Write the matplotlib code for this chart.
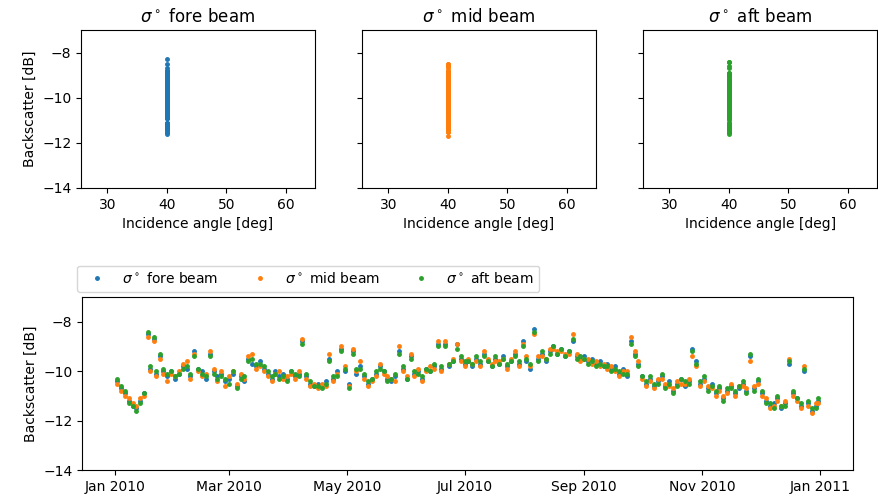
import numpy as np
import pandas as pd
import matplotlib
matplotlib.use('Agg')
from matplotlib import pyplot as plt
import matplotlib.dates as mdates

# observation days (offset from 2010-01-01) and backscatter per beam [dB]
obs_day = [1, 3, 5, 7, 9, 11, 13, 15, 17, 18, 20, 21, 23, 25, 27, 29, 31, 33, 35, 37,
           39, 41, 43, 45, 47, 49, 51, 53, 55, 57, 59, 61, 63, 65, 67, 69, 71, 73, 75, 77,
           79, 81, 83, 85, 87, 89, 91, 93, 95, 97, 99, 101, 103, 105, 107, 109, 111, 113, 115, 117,
           119, 121, 123, 125, 127, 129, 131, 133, 135, 137, 139, 141, 143, 145, 147, 149, 151, 153, 155, 157,
           159, 161, 163, 165, 167, 169, 171, 173, 175, 177, 179, 181, 183, 185, 187, 189, 191, 193, 195, 197,
           199, 201, 203, 205, 207, 209, 211, 213, 215, 217, 219, 221, 223, 225, 227, 229, 231, 233, 235, 237,
           239, 241, 243, 245, 247, 249, 251, 253, 255, 257, 259, 261, 263, 265, 267, 269, 271, 273, 275, 277,
           279, 281, 283, 285, 287, 289, 291, 293, 295, 297, 299, 301, 303, 305, 307, 309, 311, 313, 315, 317,
           319, 321, 323, 325, 327, 329, 331, 333, 335, 337, 339, 341, 343, 345, 347, 349, 351, 353, 355, 357,
           359, 361, 363, 364]

sig_fore = [-10.4, -10.7, -10.9, -11.2, -11.4, -11.5, -11.2, -10.9, -8.5, -9.9, -8.7, -10.1, -9.4, -10.0, -10.2, -10.0, -10.3, -10.1, -9.8, -9.9,
            -10.2, -9.2, -9.9, -10.0, -10.3, -9.3, -10.0, -10.2, -10.1, -10.4, -10.3, -10.1, -10.6, -10.2, -10.4, -9.5, -9.7, -9.8, -9.6, -9.9,
            -10.1, -10.3, -10.0, -10.2, -10.1, -10.3, -10.0, -10.2, -10.1, -8.8, -10.2, -10.5, -10.6, -10.5, -10.6, -10.4, -9.5, -10.3, -10.0, -9.1,
            -10.0, -10.5, -9.2, -10.1, -9.8, -10.2, -10.5, -10.3, -10.1, -9.8, -10.0, -10.3, -10.4, -10.2, -9.2, -9.9, -10.3, -9.4, -10.1, -10.0,
            -10.3, -9.9, -10.0, -9.8, -8.9, -9.9, -8.9, -9.8, -9.6, -8.9, -9.5, -9.7, -9.6, -9.8, -9.5, -9.7, -9.3, -9.6, -9.8, -9.5,
            -9.7, -9.4, -9.8, -9.6, -9.3, -9.7, -8.8, -9.6, -9.9, -8.3, -9.5, -9.3, -9.6, -9.2, -9.0, -9.3, -9.1, -9.4, -9.2, -8.8,
            -9.4, -9.5, -9.4, -9.6, -9.5, -9.7, -9.6, -9.8, -9.7, -9.9, -9.8, -10.1, -9.9, -10.2, -8.8, -9.3, -9.7, -10.2, -10.5, -10.3,
            -10.6, -10.4, -10.2, -10.6, -10.4, -10.8, -10.5, -10.3, -10.6, -10.4, -9.1, -9.6, -10.5, -10.3, -10.7, -10.5, -10.9, -10.7, -11.1, -10.8,
            -10.6, -10.9, -10.7, -10.5, -10.8, -9.4, -10.7, -10.4, -10.9, -11.2, -11.4, -11.3, -11.1, -11.5, -11.3, -9.7, -10.9, -11.1, -11.4, -10.0,
            -11.3, -11.6, -11.4, -11.2]

sig_mid = [-10.5, -10.8, -11.0, -11.1, -11.3, -11.4, -11.1, -11.0, -8.6, -10.0, -8.8, -10.2, -9.5, -10.1, -10.4, -10.1, -10.2, -10.0, -9.7, -9.6,
           -10.3, -9.3, -10.0, -10.2, -10.1, -9.2, -9.9, -10.4, -10.0, -10.6, -10.2, -10.0, -10.5, -10.1, -10.3, -9.4, -9.3, -9.9, -9.8, -10.0,
           -10.2, -10.4, -10.1, -10.0, -10.3, -10.2, -10.1, -10.3, -10.0, -8.7, -10.3, -10.6, -10.5, -10.7, -10.5, -10.6, -9.3, -10.4, -10.1, -9.0,
           -9.8, -10.6, -9.1, -10.0, -9.6, -10.3, -10.6, -10.4, -10.2, -9.7, -10.1, -10.2, -10.3, -10.4, -9.0, -10.0, -10.2, -9.3, -10.2, -9.9,
           -10.4, -10.0, -9.8, -9.9, -8.8, -10.0, -8.8, -9.7, -9.5, -8.9, -9.6, -9.8, -9.5, -9.7, -9.6, -9.8, -9.2, -9.5, -9.7, -9.6,
           -9.6, -9.5, -9.9, -9.5, -9.2, -9.8, -8.9, -9.4, -9.8, -8.5, -9.4, -9.4, -9.5, -9.1, -9.1, -9.2, -9.2, -9.3, -9.3, -8.5,
           -9.3, -9.6, -9.5, -9.5, -9.7, -9.6, -9.8, -9.7, -9.9, -9.8, -10.0, -10.2, -10.0, -10.0, -8.6, -9.2, -9.6, -10.3, -10.6, -10.4,
           -10.7, -10.3, -10.3, -10.5, -10.6, -10.7, -10.4, -10.5, -10.5, -10.3, -9.4, -9.8, -10.6, -10.4, -10.6, -10.7, -11.0, -10.8, -11.0, -10.9,
           -10.5, -11.0, -10.6, -10.6, -10.7, -9.6, -10.6, -10.5, -11.0, -11.1, -11.5, -11.4, -11.2, -11.4, -11.2, -9.5, -11.0, -11.2, -11.5, -9.8,
           -11.4, -11.7, -11.3, -11.3]

sig_aft = [-10.3, -10.6, -10.8, -11.3, -11.4, -11.6, -11.3, -10.9, -8.4, -9.8, -8.6, -10.0, -9.3, -9.9, -10.1, -10.0, -10.2, -10.1, -9.9, -9.8,
           -10.1, -9.4, -9.9, -10.1, -10.2, -9.4, -10.1, -10.3, -10.2, -10.3, -10.5, -10.0, -10.7, -10.3, -10.2, -9.6, -9.5, -9.7, -9.7, -9.8,
           -10.0, -10.2, -10.1, -10.3, -10.2, -10.4, -10.0, -10.1, -10.2, -8.9, -10.1, -10.4, -10.6, -10.6, -10.7, -10.5, -9.6, -10.2, -10.2, -9.2,
           -9.9, -10.7, -9.3, -9.9, -9.9, -10.1, -10.4, -10.3, -10.0, -9.9, -10.0, -10.4, -10.3, -10.1, -9.3, -9.8, -10.3, -9.5, -10.0, -10.1,
           -10.2, -9.9, -10.0, -9.7, -9.0, -9.8, -9.0, -9.7, -9.6, -9.1, -9.4, -9.6, -9.6, -9.7, -9.4, -9.6, -9.4, -9.6, -9.8, -9.4,
           -9.7, -9.5, -9.7, -9.6, -9.4, -9.6, -9.0, -9.5, -9.7, -8.4, -9.6, -9.2, -9.5, -9.3, -9.0, -9.3, -9.1, -9.4, -9.2, -8.7,
           -9.5, -9.4, -9.5, -9.7, -9.6, -9.8, -9.7, -9.8, -9.8, -10.0, -9.9, -10.0, -10.1, -10.1, -8.9, -9.4, -9.8, -10.2, -10.4, -10.2,
           -10.5, -10.5, -10.1, -10.7, -10.5, -10.9, -10.6, -10.3, -10.4, -10.5, -9.2, -9.7, -10.4, -10.2, -10.8, -10.6, -10.8, -10.6, -11.2, -10.7,
           -10.7, -10.8, -10.6, -10.4, -10.9, -9.3, -10.8, -10.3, -10.8, -11.3, -11.3, -11.5, -11.0, -11.4, -11.4, -9.6, -10.8, -11.1, -11.3, -9.9,
           -11.2, -11.5, -11.5, -11.1]

# all measurements of this site share the same incidence angle
inc_angle = 40.0

beams = ['fore', 'mid', 'aft']
colors = ['C0', 'C1', 'C2']

dates = pd.Timestamp('2010-01-01') + pd.to_timedelta(obs_day, unit='D')
df = pd.DataFrame({'fore': sig_fore, 'mid': sig_mid, 'aft': sig_aft}, index=dates)
df['inc'] = inc_angle

fig = plt.figure(figsize=(8.79, 4.98), dpi=100)

# incidence angle vs backscatter, one panel per beam
top_axes = []
for i, (beam, color) in enumerate(zip(beams, colors)):
    ax = fig.add_axes([0.0922 + i * 0.3197, 0.6225, 0.2662, 0.3173])
    ax.plot(df['inc'], df[beam], '.', color=color, markersize=5)
    ax.set_title(r'$\sigma^\circ$ ' + beam + ' beam')
    ax.set_xlabel('Incidence angle [deg]')
    ax.set_xlim(25.6, 64.9)
    ax.set_xticks([30, 40, 50, 60])
    ax.set_ylim(-14, -7)
    ax.set_yticks([-8, -10, -12, -14])
    if i == 0:
        ax.set_ylabel('Backscatter [dB]')
    else:
        ax.tick_params(labelleft=False)
    top_axes.append(ax)

# time series of all three beams
ax = fig.add_axes([0.0933, 0.0562, 0.8771, 0.3474])
for beam, color in zip(beams, colors):
    ax.plot(df.index, df[beam], '.', color=color, markersize=5,
            label=r'$\sigma^\circ$ ' + beam + ' beam')
ax.set_ylim(-14, -7)
ax.set_yticks([-8, -10, -12, -14])
ax.set_ylabel('Backscatter [dB]')
ax.xaxis.set_major_locator(mdates.MonthLocator(bymonth=[1, 3, 5, 7, 9, 11]))
ax.xaxis.set_major_formatter(mdates.DateFormatter('%b %Y'))
ax.legend(loc='lower left', bbox_to_anchor=(-0.015, 0.99), ncol=3)

fig.savefig('out.png', dpi=100)
